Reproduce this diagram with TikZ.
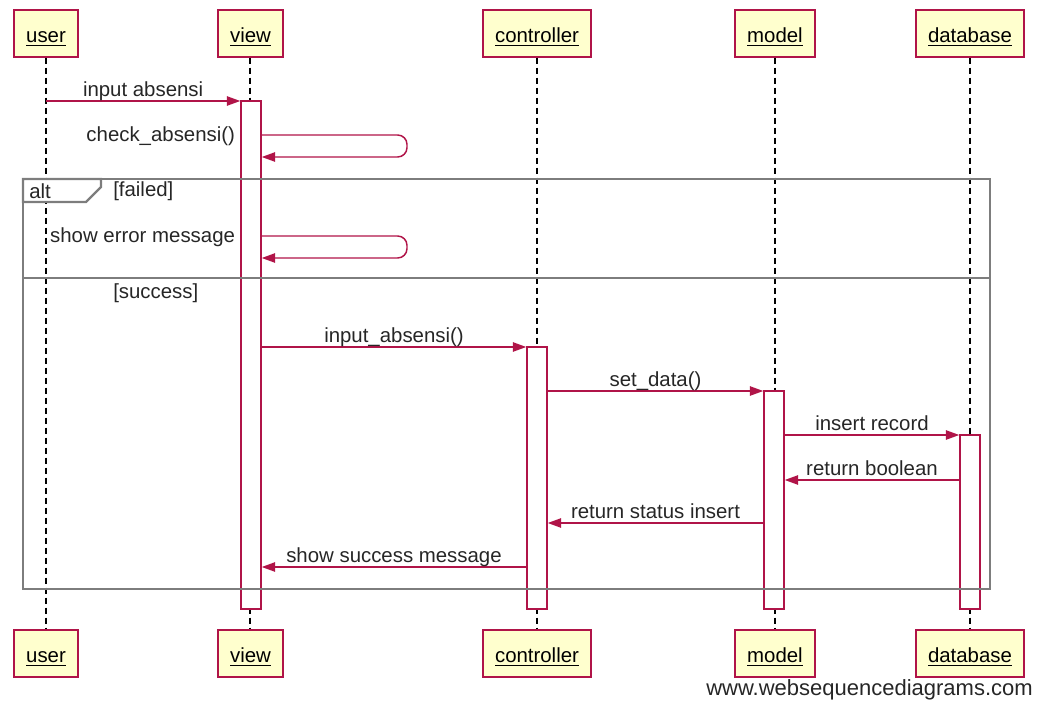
\documentclass[tikz,border=0pt]{standalone}
\usepackage{fontspec}
\setmainfont{Liberation Sans}
\usetikzlibrary{arrows.meta}
\definecolor{WSDRed}{RGB}{176,20,72}
\definecolor{WSDYellow}{RGB}{255,255,206}
\definecolor{WSDGray}{RGB}{125,125,125}

\begin{document}
\begin{tikzpicture}[x=0.75pt,y=-0.75pt,>={Triangle[length=10pt,width=7pt]},
    font=\fontsize{15.3}{18}\selectfont,
    part/.style={draw=WSDRed,fill=WSDYellow,line width=1.1pt,minimum height=35pt,inner xsep=9pt,
      text height=14pt,text depth=0pt},
    act/.style={draw=WSDRed,fill=white,line width=1.1pt,minimum width=15pt,inner sep=0pt},
    life/.style={dash pattern=on 4.5pt off 3pt,line width=1pt},
    msg/.style={->,WSDRed,line width=1.1pt},
    lbl/.style={above,inner sep=3pt,text depth=0pt,text=black!85},
    side/.style={left,inner xsep=3.75pt,inner ysep=0pt,text=black!85}]
      \useasboundingbox (0,0) rectangle (1049,702);
      % participants, top and bottom
      \node[part] (user) at (46,33.5) {\underline{user}};
      \node[part,minimum width=48.75pt] (view) at (250.5,33.5) {\underline{view}};
      \node[part] (controller) at (537,33.5) {\underline{controller}};
      \node[part] (model) at (775,33.5) {\underline{model}};
      \node[part] (database) at (970,33.5) {\underline{database}};
      \node[part] (userB) at (46,653.5) {\underline{user}};
      \node[part,minimum width=48.75pt] (viewB) at (250.5,653.5) {\underline{view}};
      \node[part] (controllerB) at (537,653.5) {\underline{controller}};
      \node[part] (modelB) at (775,653.5) {\underline{model}};
      \node[part] (databaseB) at (970,653.5) {\underline{database}};
      \draw[life] (user) -- (userB);
      \draw[life] ([xshift=-0.375pt]view.south) -- ([xshift=-0.375pt]viewB.north);
      \draw[life] (controller) -- (controllerB);
      \draw[life] (model) -- (modelB);
      \draw[life] (database) -- (databaseB);
      % activations
      \node[act,minimum height=381pt] (viewAct) at (251,355) {};
      \node[act,minimum height=196.5pt] (controllerAct) at (537,478) {};
      \node[act,minimum height=163.5pt] (modelAct) at (774,500) {};
      \node[act,minimum height=130.5pt] (databaseAct) at (970,522) {};
      % alt frame
      \draw[WSDGray,line width=2pt] (23,179) rectangle (990,589);
      \draw[WSDGray,line width=1.6pt,fill=white] (23,202) -- (86,202) -- (101,187) -- (101,179) -- (23,179) -- cycle;
      \draw[WSDGray,line width=1.1pt] (23,278) -- (990,278);
      \node[anchor=west,inner sep=0pt,text=black!85] (altLbl) at (29,191) {alt};
      \node[anchor=west,inner sep=0pt,text=black!85] (failedLbl) at (113,191) {[failed]};
      \node[anchor=west,inner sep=0pt,text=black!85] (successLbl) at (113,293) {[success]};
      % messages
      \coordinate (m1) at (0,101);
      \coordinate (s1) at (407,135);
      \coordinate (s1b) at (407,157);
      \coordinate (s2) at (407,236);
      \coordinate (s2b) at (407,258);
      \coordinate (m5) at (0,347);
      \coordinate (m6) at (0,391);
      \coordinate (m7) at (0,435);
      \coordinate (m8) at (0,480);
      \coordinate (m9) at (0,523);
      \coordinate (m10) at (0,567);
      \draw[msg] (user |- m1) -- node[lbl] (t1) {input absensi} (viewAct.west |- m1);
      \draw[msg,rounded corners=7pt] (viewAct.east |- s1) -- (s1) -- (s1b) -- (viewAct.east |- s1b);
      \node[side,yshift=-1pt] (t2) at (viewAct.west |- s1) {check\_absensi()};
      \draw[msg,rounded corners=7pt] (viewAct.east |- s2) -- (s2) -- (s2b) -- (viewAct.east |- s2b);
      \node[side,yshift=-1pt] (t3) at (viewAct.west |- s2) {show error message};
      \draw[msg] (viewAct.east |- m5) -- node[lbl] (t4) {input\_absensi()} (controllerAct.west |- m5);
      \draw[msg] (controllerAct.east |- m6) -- node[lbl] (t5) {set\_data()} (modelAct.west |- m6);
      \draw[msg] (modelAct.east |- m7) -- node[lbl] (t6) {insert record} (databaseAct.west |- m7);
      \draw[msg] (databaseAct.west |- m8) -- node[lbl] (t7) {return boolean} (modelAct.east |- m8);
      \draw[msg] (modelAct.west |- m9) -- node[lbl] (t8) {return status insert} (controllerAct.east |- m9);
      \draw[msg] (controllerAct.west |- m10) -- node[lbl] (t9) {show success message} (viewAct.east |- m10);
      \node[anchor=east,inner sep=0pt,text=black!85,font=\fontsize{16.5}{19}\selectfont] (wsd) at (1033,690) {www.websequencediagrams.com};
    \end{tikzpicture}
\end{document}
